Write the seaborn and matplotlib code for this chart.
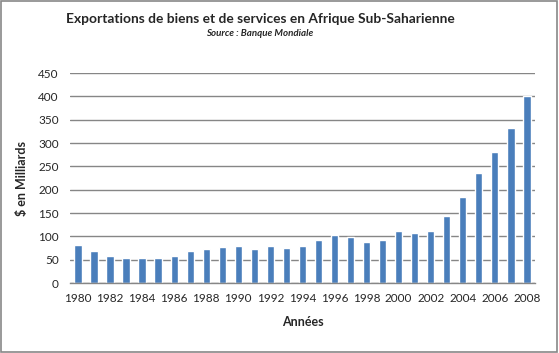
import numpy as np
import pandas as pd
import seaborn as sns
from matplotlib import pyplot as plt
from matplotlib.patches import Rectangle

years = list(range(1980, 2009))
exports = [82, 69, 59, 54, 54, 54, 59, 69, 74, 78, 80, 74, 80, 76, 80,
           93, 104, 99, 89, 93, 112, 108, 112, 144, 185, 236, 281, 333, 401]
y_ticks = list(range(0, 451, 50))

TITLE = "Exportations de biens et de services en Afrique Sub-Saharienne"
SUBTITLE = "Source : Banque Mondiale"
BAR_COLOR = "#4A7EBB"
GRID_COLOR = "#868686"

if __name__ == "__main__":
    sns.set_style("white")
    plt.rcParams["font.family"] = ["Lato", "DejaVu Sans"]

    df = pd.DataFrame({"year": [str(y) for y in years], "value": exports})

    fig = plt.figure(figsize=(5.59, 3.53), dpi=100)
    ax = fig.add_axes([0.125, 0.198, 0.832, 0.595])

    sns.barplot(data=df, x="year", y="value", color=BAR_COLOR, width=0.45,
                saturation=1, ax=ax, zorder=2)

    ax.set_ylim(0, 450)
    ax.set_yticks(y_ticks)
    ax.set_xlim(-0.5, len(years) - 0.5)
    ax.yaxis.grid(True, color=GRID_COLOR, linewidth=1, zorder=0)
    ax.set_axisbelow(True)

    ax.set_xticks(np.arange(0, len(years), 2))
    ax.set_xticklabels([str(y) for y in years[::2]])
    ax.set_xticks(np.arange(-0.5, len(years), 1), minor=True)
    ax.tick_params(axis="x", which="major", length=0, labelsize=8.5, pad=7)
    ax.tick_params(axis="x", which="minor", length=4, color=GRID_COLOR,
                   direction="out", width=1)
    ax.tick_params(axis="y", length=0, labelsize=8.5, pad=8)

    for s in ["top", "right", "left"]:
        ax.spines[s].set_visible(False)
    ax.spines["bottom"].set_color(GRID_COLOR)
    ax.spines["bottom"].set_linewidth(1)

    ax.set_xlabel("Années", fontsize=9, fontweight="bold", labelpad=9)
    ax.set_ylabel("$ en Milliards", fontsize=9, fontweight="bold", labelpad=7)

    fig.text(0.465, 0.945, TITLE, ha="center", va="center", fontsize=9.9,
             fontweight="bold")
    fig.text(0.465, 0.905, SUBTITLE, ha="center", va="center", fontsize=7,
             fontweight="bold", style="italic")

    fig.patches.append(Rectangle((0.002, 0.003), 0.995, 0.994,
                                 transform=fig.transFigure, fill=False,
                                 edgecolor="#878787", linewidth=1.2))

    fig.savefig("out.png", dpi=100)
